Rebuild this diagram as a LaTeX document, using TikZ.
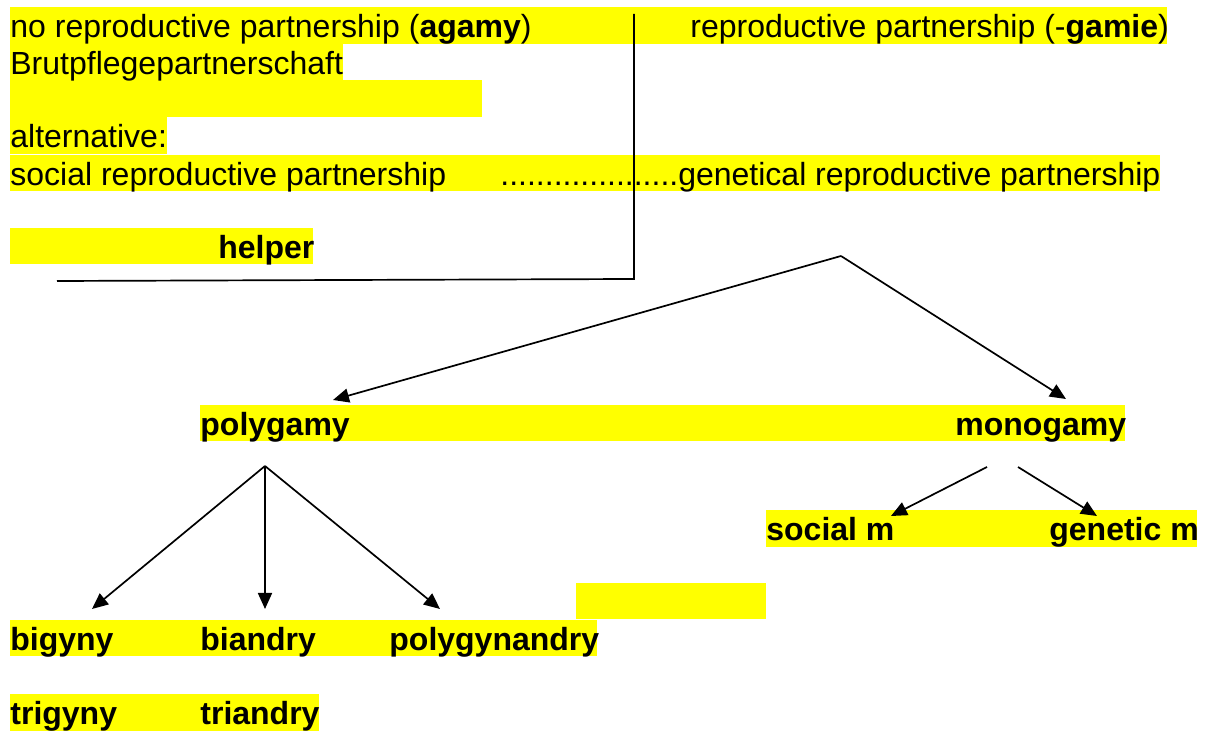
\documentclass[tikz,border=0pt]{standalone}
\usepackage{fontspec}
\setmainfont{Liberation Sans}
\usepackage{xcolor}
\usepackage{tikz}
\usetikzlibrary{arrows.meta}
\definecolor{hly}{HTML}{FFFF00}
\tikzset{
  ar/.style={-{Triangle[length=8pt,width=7pt]},line width=0.85pt,black},
  ln/.style={line width=0.85pt,black},
  hl/.style={fill=hly},
  lbl/.style={anchor=base west,inner sep=0pt,font=\fontsize{16}{18.4}\selectfont}
}

\begin{document}
\begin{tikzpicture}[x=0.5pt,y=-0.5pt]
\useasboundingbox (0,0) rectangle (1207,731);
% highlights
\fill[hl] (10,7) rectangle (1167,44);
\fill[hl] (10,44) rectangle (343,80);
\fill[hl] (10,80) rectangle (482,117);
\fill[hl] (10,117) rectangle (167,154);
\fill[hl] (10,155) rectangle (1160,191);
\fill[hl] (10,228) rectangle (313,264);
\fill[hl] (200,405) rectangle (1125,441);
\fill[hl] (766,510) rectangle (1197,547);
\fill[hl] (576,583) rectangle (766,619);
\fill[hl] (10,620) rectangle (597,656);
\fill[hl] (10,694) rectangle (319,731);
% texts
\node[lbl] (agamy) at (10,38) {no reproductive partnership (\textbf{agamy})};
\node[lbl] (gamie) at (690,38) {reproductive partnership (-\textbf{gamie})};
\node[lbl] (brut) at (10,75) {Brutpflegepartnerschaft};
\node[lbl] (altern) at (10,148) {alternative:};
\node[lbl] (social) at (10,186) {social reproductive partnership};
\node[lbl] (genetical) at (500,186) {....................genetical reproductive partnership};
\node[lbl] (helper) at (218,259) {\textbf{helper}};
\node[lbl] (poly) at (200,436) {\textbf{polygamy}};
\node[lbl] (mono) at (955,436) {\textbf{monogamy}};
\node[lbl] (socm) at (766,541) {\textbf{social m}};
\node[lbl] (genm) at (1049,541) {\textbf{genetic m}};
\node[lbl] (bigyny) at (10,651) {\textbf{bigyny}};
\node[lbl] (biandry) at (200,651) {\textbf{biandry}};
\node[lbl] (polygyn) at (389,651) {\textbf{polygynandry}};
\node[lbl] (trigyny) at (10,725) {\textbf{trigyny}};
\node[lbl] (triandry) at (200,725) {\textbf{triandry}};
% divider
\coordinate (dtop) at (634,14); \coordinate (dcorner) at (634,279); \coordinate (dleft) at (57,281);
\draw[ln] (dtop)--(dcorner)--(dleft);
% arrows
\coordinate (apex) at (841,256);
\coordinate (polyin) at (333,400); \coordinate (monoin) at (1066,399);
\draw[ar] (apex)--(polyin);
\draw[ar] (apex)--(monoin);
\coordinate (polyapex) at (265,466);
\coordinate (bigin) at (92,609); \coordinate (biain) at (265,609); \coordinate (pgain) at (440,609);
\draw[ar] (polyapex)--(bigin);
\draw[ar] (polyapex)--(biain);
\draw[ar] (polyapex)--(pgain);
\coordinate (monol) at (987,467); \coordinate (monor) at (1018,467);
\coordinate (socin) at (891,516); \coordinate (genin) at (1097,516);
\draw[ar] (monol)--(socin);
\draw[ar] (monor)--(genin);
\end{tikzpicture}
\end{document}
